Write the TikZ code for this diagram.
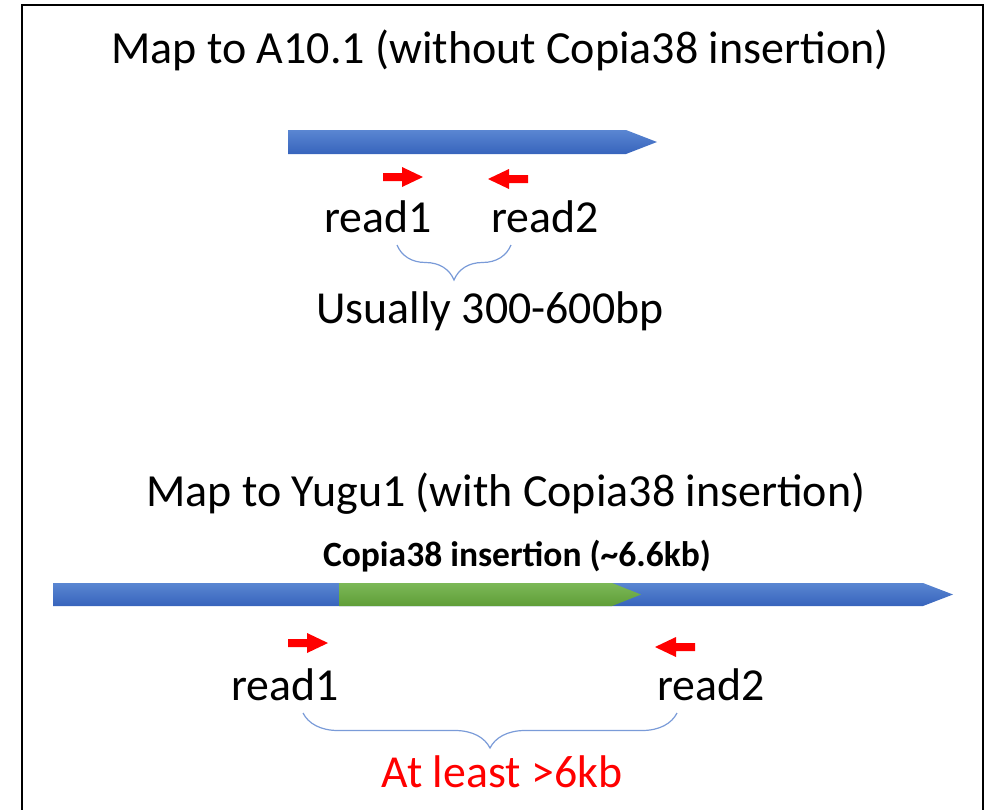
\documentclass[tikz,border=0pt]{standalone}
\usepackage{fontspec}
\setmainfont{Carlito}
\usetikzlibrary{decorations.pathreplacing}
\definecolor{bartop}{HTML}{5A86D2}
\definecolor{barbot}{HTML}{3764BC}
\definecolor{ins-top}{HTML}{7CB857}
\definecolor{ins-bot}{HTML}{5F9E38}
\definecolor{readred}{HTML}{FF0000}
\definecolor{bracecol}{HTML}{7A9BD8}
\tikzset{
  big/.style={font=\fontsize{46}{50}\selectfont, inner sep=0pt, anchor=base},
  mid/.style={font=\fontsize{45.8}{50}\selectfont, inner sep=0pt, anchor=base},
  insl/.style={font=\bfseries\fontsize{35.5}{40}\selectfont, inner sep=0pt, anchor=base},
  fwdread/.pic={\fill[readred] (-20,-4) -- (-1,-4) -- (-1,-10) -- (20,0) -- (-1,10) -- (-1,4) -- (-20,4) -- cycle;},
  span/.style={draw=bracecol, line width=1.2pt,
    decorate, decoration={brace, mirror, amplitude=35pt, aspect=0.5}},
  bar/.style={top color=bartop, bottom color=barbot},
  insbar/.style={top color=ins-top, bottom color=ins-bot}
}
\begin{document}
\begin{tikzpicture}[x=1pt,y=-1pt]
\useasboundingbox (0,0) rectangle (998,809);
% frame, open at the bottom edge
\draw[line width=2.5pt] (22,815) -- (22,5) -- (983,5) -- (983,815);

% --- reference without the insertion ---
\node[big] (t1) at (500,63) {Map to A10.1 (without Copia38 insertion)};
\shade[bar] (288,130) -- (626,130) -- (657,142) -- (626,154) -- (288,154) -- cycle;
\pic at (403,177) {fwdread};
\pic[xscale=-1] at (508,179) {fwdread};
\node[mid] (r1a) at (378,232) {read1};
\node[mid] (r2a) at (545,232) {read2};
\coordinate (b1l) at (397,245);
\coordinate (b1r) at (511,245);
\draw[span] (b1l) -- (b1r);
\node[mid] (u1) at (490,323) {Usually 300-600bp};

% --- reference with the insertion ---
\node[big] (t2) at (506,506) {Map to Yugu1 (with Copia38 insertion)};
\node[insl] (cl) at (517,566) {Copia38 insertion (\textasciitilde6.6kb)};
\shade[bar] (53,583) -- (923,583) -- (953,594.5) -- (923,606) -- (53,606) -- cycle;
\shade[insbar] (339,583) -- (612,583) -- (641,594.5) -- (612,606) -- (339,606) -- cycle;
\pic at (308,643) {fwdread};
\pic[xscale=-1] at (675,647) {fwdread};
\node[mid] (r1b) at (285,700) {read1};
\node[mid] (r2b) at (711,700) {read2};
\coordinate (b2l) at (303,713);
\coordinate (b2r) at (677,713);
\draw[span] (b2l) -- (b2r);
\node[mid, text=readred] (al) at (502,787) {At least >6kb};
\end{tikzpicture}
\end{document}
